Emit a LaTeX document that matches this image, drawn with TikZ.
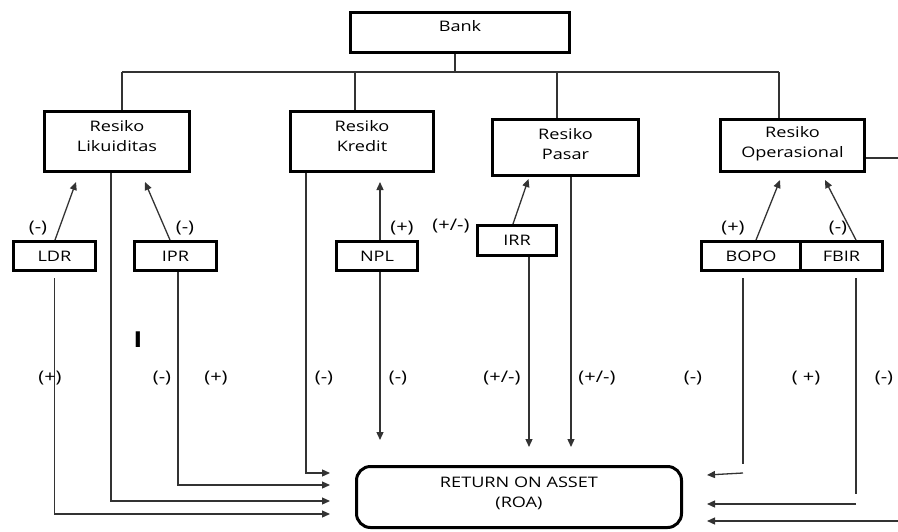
\documentclass[tikz,border=0pt]{standalone}
\usepackage{fontspec}
\setmainfont{Open Sans}[FakeStretch=1.25]
\usepackage{tikz}
\usetikzlibrary{arrows.meta,positioning}
\tikzstyle{box}  =[draw=black, line width=3pt, inner sep=0pt,
                   align=center, font=\fontsize{14.5}{20}\selectfont]
\tikzstyle{edge} =[line width=1.3pt, draw=black!80,
                   >={Triangle[length=8pt,width=7pt]}]
\tikzstyle{lbl}  =[inner sep=0pt, font=\fontsize{16}{18}\selectfont]

\begin{document}
\begin{tikzpicture}[x=1pt, y=-1pt, edge]
        \useasboundingbox (0,0) rectangle (898,531);

        % bank and the four risks
        \node[box, minimum width=219, minimum height=40, text depth=13pt] (bank) at (460,32) {Bank};
        \node[box, minimum width=145, minimum height=60, text depth=10.5pt] (likuid) at (117,141.5) {Resiko\\Likuiditas};
        \node[box, minimum width=143, minimum height=60, text depth=10.5pt] (kredit) at (362,141.5) {Resiko\\Kredit};
        \node[box, minimum width=146, minimum height=56, text depth=8pt] (pasar) at (565.5,147.5) {Resiko\\Pasar};
        \node[box, minimum width=144, minimum height=52, text depth=8pt] (operas) at (792.5,145.5) {Resiko\\Operasional};

        % ratios
        \node[box, minimum width=82, minimum height=29] (ldr) at (54.5,256) {LDR};
        \node[box, minimum width=82, minimum height=29] (ipr) at (175.5,256) {IPR};
        \node[box, minimum width=81, minimum height=29] (npl) at (377,256) {NPL};
        \node[box, minimum width=79, minimum height=30] (irr) at (517,240.5) {IRR};
        \node[box, minimum width=99, minimum height=29] (bopo) at (751,256) {BOPO};
        \node[box, minimum width=82, minimum height=29] (fbir) [right=-3pt of bopo] {FBIR};

        \node[box, rounded corners=14pt, minimum width=325, minimum height=61, text depth=10pt] (roa) at (519,497) {RETURN ON ASSET\\(ROA)};

        % tree
        \coordinate (b1) at (122,72);
        \coordinate (b2) at (355,72);
        \coordinate (b3) at (557,72);
        \coordinate (b4) at (779,72);
        \coordinate (opout) at (898,158);
        \coordinate (opin) at (898,521);
        \draw (b1) -- (b4);
        \draw ([xshift=-5pt]bank.south) -- ([xshift=-5pt]bank.south |- b1);
        \draw (b1) -- (b1 |- likuid.north);
        \draw (b2) -- (b2 |- kredit.north);
        \draw (b3) -- (b3 |- pasar.north);
        \draw (b4) -- (b4 |- operas.north);
        \draw (operas.east |- opout) -- (opout);

        % ratio -> risk
        \draw[->] ([xshift=0.5pt]ldr.north) -- ([xshift=-41pt,yshift=-9pt]likuid.south);
        \draw[->] ([xshift=-5.5pt]ipr.north) -- ([xshift=28pt,yshift=-9pt]likuid.south);
        \draw[->] ([xshift=3pt]npl.north) -- ([xshift=18pt,yshift=-9pt]kredit.south);
        \draw[->] ([xshift=-4pt]irr.north) -- ([xshift=-37pt,yshift=-2pt]pasar.south);
        \draw[->] ([xshift=5pt]bopo.north) -- ([xshift=-12.5pt,yshift=-7pt]operas.south);
        \draw[->] ([xshift=14.5pt]fbir.north) -- ([xshift=32.5pt,yshift=-7pt]operas.south);

        % into ROA
        \draw[->] ([yshift=-6pt]ldr.south) |- ([xshift=-25pt,yshift=-17pt]roa.west);
        \draw[->] ([xshift=-6pt]likuid.south) |- ([xshift=-25pt,yshift=-4pt]roa.west);
        \draw[->] ([xshift=2.5pt]ipr.south) |- ([xshift=-25pt,yshift=12pt]roa.west);
        \draw[->] ([xshift=-56pt]kredit.south) |- ([xshift=-25pt,yshift=24pt]roa.west);
        \draw[->, shorten >=25pt] ([xshift=3pt]npl.south) -- ([xshift=3pt]npl.south |- roa.north);
        \draw[->, shorten >=18pt] ([xshift=12pt]irr.south) -- ([xshift=12pt]irr.south |- roa.north);
        \draw[->, shorten >=18pt] ([xshift=5.5pt]pasar.south) -- ([xshift=5.5pt]pasar.south |- roa.north);
        \draw ([xshift=-8pt,yshift=-6pt]bopo.south) -- ([xshift=-8pt,yshift=1pt]bopo.south |- roa.north);
        \draw[->] ([xshift=-8pt,yshift=-8pt]bopo.south |- roa.north) -- ([xshift=24pt,yshift=22pt]roa.east);
        \draw ([xshift=14.5pt,yshift=-6pt]fbir.south) -- ([xshift=14.5pt,yshift=3pt]fbir.south |- roa.east);
        \draw[->] ([xshift=14.5pt,yshift=-7pt]fbir.south |- roa.east) -- ([xshift=24pt,yshift=-7pt]roa.east);
        \draw[->] (opin) -- ([xshift=24pt]roa.east |- opin);

        % signs
        \node[lbl] (sldr) at (38,228) {(-)};
        \node[lbl] (sipr) at (185,228) {(-)};
        \node[lbl] (snpl) at (402,228) {(+)};
        \node[lbl] (sirr) at (451,226) {(+/-)};
        \node[lbl] (sbopo) at (733,228) {(+)};
        \node[lbl] (sfbir) at (838,228) {(-)};
        \foreach \x/\t [count=\i] in {50/{(+)},162/{(-)},216/{(+)},324/{(-)},398/{(-)},
                                      502/{(+/-)},597/{(+/-)},693/{(-)},806/{( +)},884/{(-)}}
            \node[lbl] (r\i) at (\x,378) {\t};
        \node[lbl, font=\fontsize{22}{22}\selectfont\bfseries] (cur) at (138,340) {I};
\end{tikzpicture}
\end{document}
